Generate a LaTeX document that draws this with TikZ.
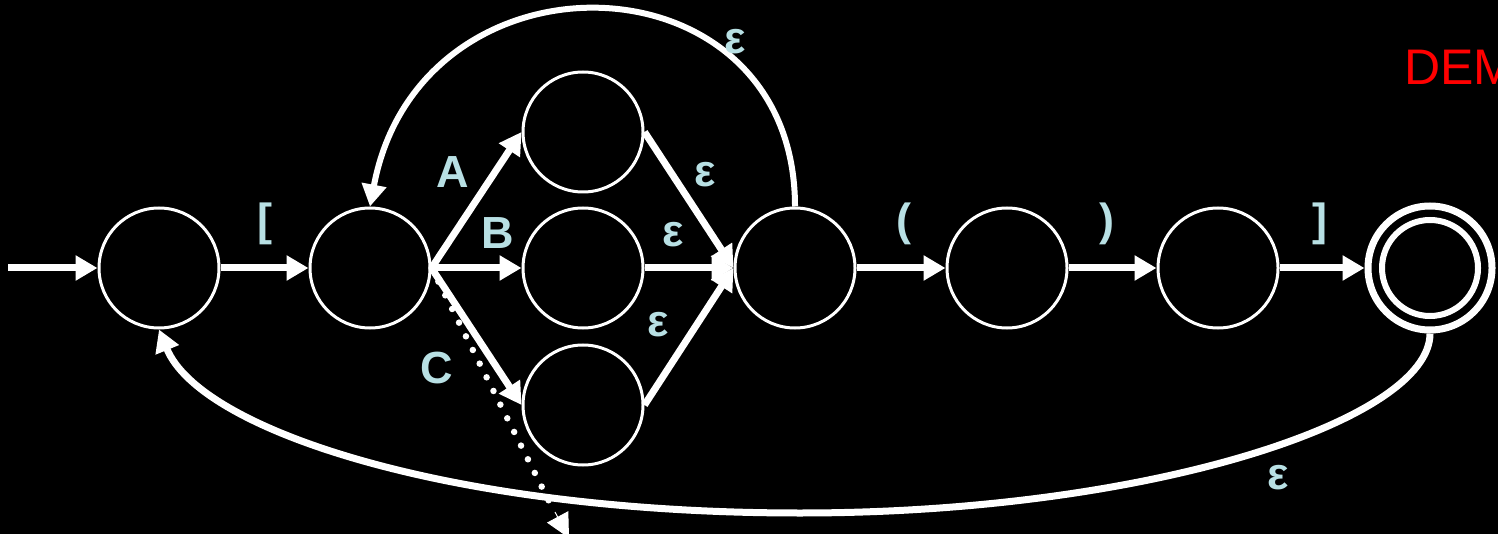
\documentclass[tikz,border=0pt]{standalone}
\usepackage{fontspec}
\setmainfont{Liberation Sans}
\usetikzlibrary{arrows.meta}
\definecolor{lbl}{RGB}{184,224,228}
\definecolor{demo}{RGB}{255,0,0}
\tikzset{
  state/.style={circle,draw=white,line width=3pt,minimum size=120pt,inner sep=0pt},
  edge/.style={draw=white,line width=7pt,-{Triangle[length=22pt,width=24pt]}},
  lab/.style={text=lbl,font=\fontsize{45}{50}\selectfont\bfseries,inner sep=0pt},
}
\begin{document}
\begin{tikzpicture}[x=1pt,y=-1pt]
\useasboundingbox (0,0) rectangle (1498,534);
\fill[black] (0,0) rectangle (1498,534);
% states
\node[state] (q0) at (159,268) {};
\node[state] (q1) at (370,268) {};
\node[state] (qA) at (583,132) {};
\node[state] (qB) at (583,268) {};
\node[state] (qC) at (583,405) {};
\node[state] (q2) at (795,268) {};
\node[state] (q3) at (1007,268) {};
\node[state] (q4) at (1218,268) {};
\node[circle,draw=white,line width=7pt,minimum size=124pt,inner sep=0pt] (qf) at (1430,268) {};
\node[circle,draw=white,line width=6pt,minimum size=96pt,inner sep=0pt] (qfi) at (1430,268) {};
\coordinate (s) at (8,268);
\coordinate (d) at (569,538);
% dotted arrow
\draw[white,line width=6.5pt,line cap=round,dash pattern=on 0pt off 15.3pt] (q1.east) -- (555,513);
\draw[white,line width=1pt,-{Triangle[length=24pt,width=24pt]}] (555,512) -- (d);
% edges
\draw[edge] (s) -- (q0);
\draw[edge] (q0) -- (q1);
\draw[edge] (q1.east) -- (qA.west);
\draw[edge] (q1.east) -- (qB.west);
\draw[edge] (q1.east) -- (qC.west);
\draw[edge] (qA.east) -- (q2.west);
\draw[edge] (qB.east) -- (q2.west);
\draw[edge] (qC.east) -- (q2.west);
\draw[edge] (q2) -- (q3);
\draw[edge] (q3) -- (q4);
\draw[edge] (q4) -- (qf);
\draw[edge,line width=6pt] (q2.north) .. controls (795,-50) and (420,-60) .. (q1.north);
\draw[edge] (qf.south) .. controls (1430,420) and (1150,513) .. (800,513) .. controls (450,513) and (200,430) .. (q0.south);
% labels
\node[lab] (l1) at (265,224) {[};
\node[lab] (lA) at (453,172) {A};
\node[lab] (lB) at (498,233) {B};
\node[lab] (lC) at (437,368) {C};
\node[lab] (e1) at (705,175) {ε};
\node[lab] (e2) at (673,235) {ε};
\node[lab] (e3) at (658,325) {ε};
\node[lab] (e4) at (735,42) {ε};
\node[lab] (l2) at (904,224) {(};
\node[lab] (l3) at (1107,224) {)};
\node[lab] (l4) at (1320,224) {]};
\node[lab] (e5) at (1278,478) {ε};
\node[text=demo,font=\fontsize{50}{55}\selectfont,anchor=west,inner sep=0pt] (dm) at (1404,67) {DEM};
\end{tikzpicture}
\end{document}
